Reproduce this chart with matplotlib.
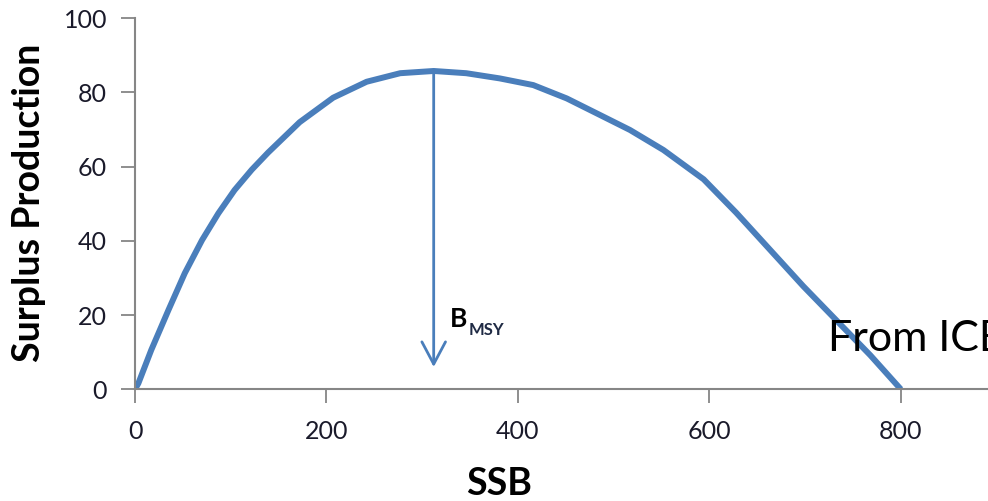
import matplotlib.pyplot as plt

# data
ssb = [0, 3.5, 17, 35, 52, 70, 87, 104, 122, 139, 172, 207, 242, 277,
       312, 346, 381, 416, 451, 486, 517, 552, 594, 628, 663, 698, 733,
       768, 800]
surplus = [0, 1.6, 10.6, 21.4, 31.3, 40.2, 47.4, 53.7, 59.2, 63.8, 72.0,
           78.6, 82.9, 85.2, 85.8, 85.2, 83.8, 82.0, 78.4, 73.9, 69.9,
           64.5, 56.6, 47.6, 37.7, 27.8, 18.5, 9.2, 0]
x_ticks = [0, 200, 400, 600, 800]
y_ticks = [0, 20, 40, 60, 80, 100]
b_msy = 312
msy = 85.8

blue = '#4a7ebb'
grey = '#868686'
plt.rcParams['font.family'] = ['Lato', 'DejaVu Sans']

fig = plt.figure(figsize=(9.88, 5.01), dpi=100)
ax = fig.add_axes([135 / 988, 1 - 389.3 / 501, 1 - 135 / 988, 371 / 501])

ax.plot(ssb, surplus, color=blue, lw=4.3, solid_joinstyle='round',
        solid_capstyle='butt')

# B_MSY arrow
ax.annotate('', xy=(b_msy, 6), xytext=(b_msy, msy),
            arrowprops=dict(arrowstyle='->,head_length=1.6,head_width=0.85',
                            color=blue, lw=2, shrinkA=0, shrinkB=0))
ax.text(329, 16.8, 'B', fontsize=19, fontweight='bold', color='black')
ax.text(348, 14.6, 'MSY', fontsize=12, fontweight='bold', color='#1f2a44')

ax.text(724, 10.4, 'From ICES', fontsize=31, color='black', clip_on=False)

ax.set_xlim(0, 891)
ax.set_ylim(0, 100)
ax.set_xticks(x_ticks)
ax.set_yticks(y_ticks)
ax.tick_params(direction='out', length=10, width=1.3, color=grey,
               labelsize=18, labelcolor='#1a1a2a')
ax.tick_params(axis='x', pad=12)
ax.tick_params(axis='y', pad=10)

for side in ['top', 'right']:
    ax.spines[side].set_visible(False)
for side in ['left', 'bottom']:
    ax.spines[side].set_color(grey)
    ax.spines[side].set_linewidth(1.5)

fig.text(499 / 988, 1 - 495 / 501, 'SSB', fontsize=27, fontweight='bold',
         ha='center', va='baseline')
fig.text(29 / 988, 1 - 203 / 501, 'Surplus Production', fontsize=27,
         fontweight='bold', rotation=90, ha='center', va='center')

fig.savefig('out.png', dpi=100)
